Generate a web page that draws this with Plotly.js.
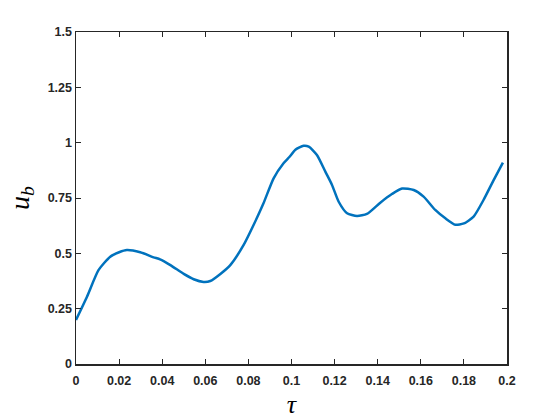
<!DOCTYPE html>
<html><head><meta charset="utf-8">
<script src="https://cdn.plot.ly/plotly-3.0.1.min.js"></script>
<style>html,body{margin:0;padding:0;background:#fff}#chart{width:560px;height:420px}</style>
</head><body><div id="chart"></div>
<script>
const tau = [0, 0.0051, 0.0105, 0.0159, 0.0200, 0.0236, 0.0298, 0.036, 0.039, 0.0438, 0.050, 0.0546, 0.0592, 0.0623, 0.067, 0.0716, 0.0778, 0.0824, 0.087, 0.0917, 0.0963, 0.0990, 0.1018, 0.1056, 0.108, 0.1118, 0.1157, 0.1188, 0.1219, 0.1258, 0.1304, 0.135, 0.1412, 0.1466, 0.1513, 0.1567, 0.1613, 0.1667, 0.1714, 0.176, 0.180, 0.1845, 0.1891, 0.1938, 0.1981];
const ub  = [0.199, 0.304, 0.425, 0.485, 0.505, 0.515, 0.505, 0.482, 0.473, 0.447, 0.407, 0.383, 0.371, 0.375, 0.407, 0.447, 0.538, 0.628, 0.726, 0.839, 0.907, 0.935, 0.968, 0.986, 0.982, 0.944, 0.869, 0.809, 0.733, 0.681, 0.669, 0.678, 0.729, 0.768, 0.793, 0.786, 0.756, 0.696, 0.658, 0.629, 0.635, 0.666, 0.741, 0.831, 0.910];
const xTicks = [0, 0.02, 0.04, 0.06, 0.08, 0.1, 0.12, 0.14, 0.16, 0.18, 0.2];
const xTickText = ['0', '0.02', '0.04', '0.06', '0.08', '0.1', '0.12', '0.14', '0.16', '0.18', '0.2'];
const yTicks = [0, 0.25, 0.5, 0.75, 1, 1.25, 1.5];
const yTickText = ['0', '0.25', '0.5', '0.75', '1', '1.25', '1.5'];

const axisCommon = {
  showline: true, mirror: 'allticks', linecolor: '#262626', linewidth: 1.5,
  ticks: 'inside', ticklen: 5, tickwidth: 1, tickcolor: '#262626',
  showgrid: false, zeroline: false,
  tickfont: {family: 'Liberation Sans, Arial, sans-serif', size: 12.5, color: '#262626', weight: 'bold'}
};
const layout = {
  width: 560, height: 420,
  margin: {l: 76, r: 53, t: 32, b: 56},
  paper_bgcolor: '#fff', plot_bgcolor: '#fff',
  showlegend: false,
  xaxis: Object.assign({}, axisCommon, {
    range: [0, 0.2], tickvals: xTicks, ticktext: xTickText, ticklabelstandoff: 4,
    title: {text: '<i>τ</i>', font: {family: 'Liberation Serif, Times New Roman, serif', size: 26, color: '#000'}, standoff: 8}
  }),
  yaxis: Object.assign({}, axisCommon, {
    range: [0, 1.5], tickvals: yTicks, ticktext: yTickText,
    title: {text: '<i>u<sub>b</sub></i>', font: {family: 'Liberation Serif, Times New Roman, serif', size: 28, color: '#000'}, standoff: 10}
  })
};
Plotly.newPlot('chart', [{
  x: tau, y: ub, type: 'scatter', mode: 'lines',
  line: {color: '#0072BD', width: 2.5, shape: 'spline', smoothing: 0.6}
}], layout, {staticPlot: true, displayModeBar: false});
</script></body></html>
